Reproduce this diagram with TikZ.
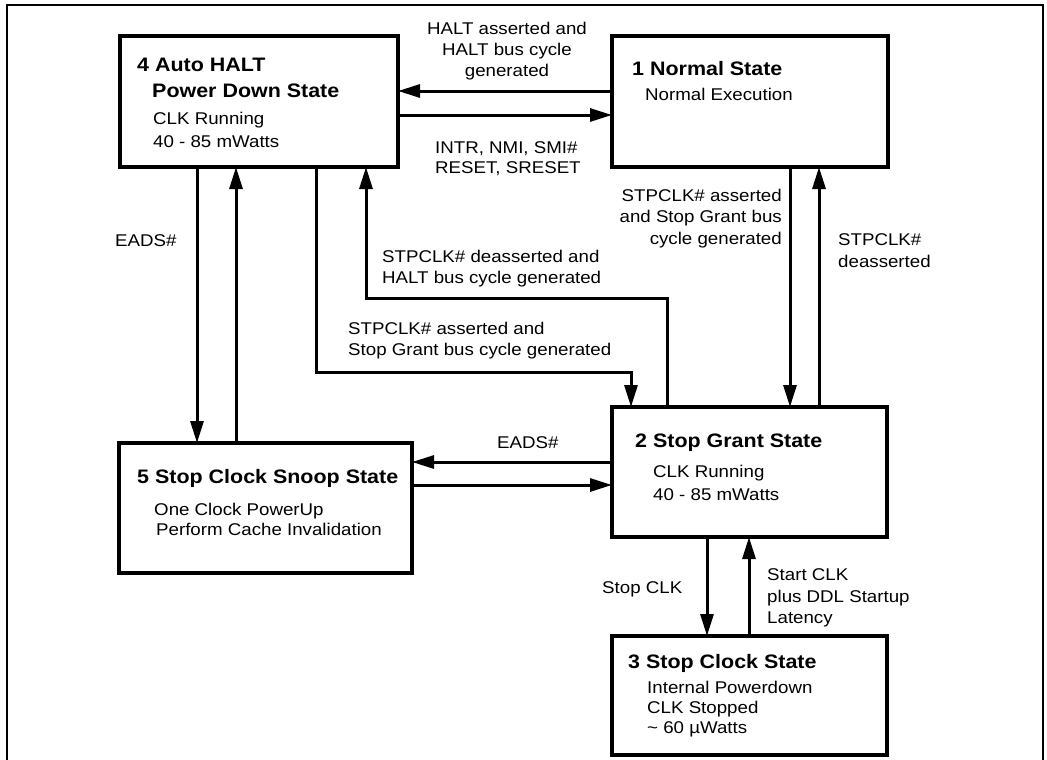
\documentclass[tikz,border=0pt]{standalone}
\usepackage{fontspec}
\setmainfont{Liberation Sans}[FakeStretch=1.1]
\usetikzlibrary{arrows.meta}
\tikzset{
  box/.style={draw, line width=3.3pt, rectangle, inner sep=0pt, outer sep=0pt},
  arr/.style={line width=3pt, -{Triangle[length=22pt,width=13pt]}},
  frame/.style={line width=2.3pt},
  ttl/.style={anchor=base west, inner sep=0pt, font=\fontsize{19.5}{24}\selectfont\bfseries},
  txt/.style={anchor=base west, inner sep=0pt, font=\fontsize{17}{21}\selectfont},
}
\begin{document}
\begin{tikzpicture}[x=1pt,y=-1pt]
\useasboundingbox (0,0) rectangle (1047,760);
\draw[frame] (7,762) -- (7,5) -- (1043,5) -- (1043,762);

% state boxes
\node[box, minimum width=278pt, minimum height=131pt] (s4) at (259,101.5) {};
\node[box, minimum width=276pt, minimum height=131pt] (s1) at (750,101.5) {};
\node[box, minimum width=275pt, minimum height=130pt] (s2) at (749.5,472) {};
\node[box, minimum width=275pt, minimum height=119pt] (s3) at (749.5,695.5) {};
\node[box, minimum width=293pt, minimum height=130pt] (s5) at (265.5,508) {};

% box texts
\node[ttl] (s4a) at (137,72) {4 Auto HALT};
\node[ttl] (s4b) at (152,97) {Power Down State};
\node[txt] (s4c) at (153,124) {CLK Running};
\node[txt] (s4d) at (153,147) {40 - 85 mWatts};

\node[ttl] (s1a) at (632,75) {1 Normal State};
\node[txt] (s1b) at (645,100) {Normal Execution};

\node[ttl] (s2a) at (635,447) {2 Stop Grant State};
\node[txt] (s2b) at (653,477) {CLK Running};
\node[txt] (s2c) at (653,500) {40 - 85 mWatts};

\node[ttl] (s3a) at (628,668) {3 Stop Clock State};
\node[txt] (s3b) at (647,693) {Internal Powerdown};
\node[txt] (s3c) at (647,713) {CLK Stopped};
\node[txt] (s3d) at (647,733) {\textasciitilde{} 60 µWatts};

\node[ttl] (s5a) at (137,483) {5 Stop Clock Snoop State};
\node[txt] (s5b) at (154,515) {One Clock PowerUp};
\node[txt] (s5c) at (156,535) {Perform Cache Invalidation};

% connectors
\draw[arr] (s1.west |- 0,91) -- (s4.east |- 0,91);
\draw[arr] (s4.east |- 0,115) -- (s1.west |- 0,115);
\draw[arr] (197,0 |- s4.south) -- (197,0 |- s5.north);
\draw[arr] (236,0 |- s5.north) -- (236,0 |- s4.south);
\draw[arr] (316,0 |- s4.south) -- (316,372) -- (631,372) -- (631,0 |- s2.north);
\draw[arr] (667,0 |- s2.north) -- (667,298) -- (366,298) -- (366,0 |- s4.south);
\draw[arr] (790,0 |- s1.south) -- (790,0 |- s2.north);
\draw[arr] (819,0 |- s2.north) -- (819,0 |- s1.south);
\draw[arr] (s2.west |- 0,462) -- (s5.east |- 0,462);
\draw[arr] (s5.east |- 0,485) -- (s2.west |- 0,485);
\draw[arr] (707,0 |- s2.south) -- (707,0 |- s3.north);
\draw[arr] (749,0 |- s3.north) -- (749,0 |- s2.south);

% connector labels
\node[txt, anchor=base] (l1a) at (507,35) {HALT asserted and};
\node[txt, anchor=base] (l1b) at (507,56) {HALT bus cycle};
\node[txt, anchor=base] (l1c) at (507,77) {generated};

\node[txt] (l2a) at (435,153) {INTR, NMI, SMI\#};
\node[txt] (l2b) at (435,173) {RESET, SRESET};

\node[txt] (l3) at (115,246) {EADS\#};

\node[txt] (l4a) at (382,262) {STPCLK\# deasserted and};
\node[txt] (l4b) at (382,283) {HALT bus cycle generated};

\node[txt] (l5a) at (348,334) {STPCLK\# asserted and};
\node[txt] (l5b) at (348,355) {Stop Grant bus cycle generated};

\node[txt, anchor=base east] (l6a) at (782,201) {STPCLK\# asserted};
\node[txt, anchor=base east] (l6b) at (782,222) {and Stop Grant bus};
\node[txt, anchor=base east] (l6c) at (782,244) {cycle generated};

\node[txt] (l7a) at (838,245) {STPCLK\#};
\node[txt] (l7b) at (838,267) {deasserted};

\node[txt] (l8) at (497,448) {EADS\#};

\node[txt] (l9) at (602,593) {Stop CLK};

\node[txt] (l10a) at (767,580) {Start CLK};
\node[txt] (l10b) at (767,602) {plus DDL Startup};
\node[txt] (l10c) at (767,623) {Latency};
\end{tikzpicture}
\end{document}
